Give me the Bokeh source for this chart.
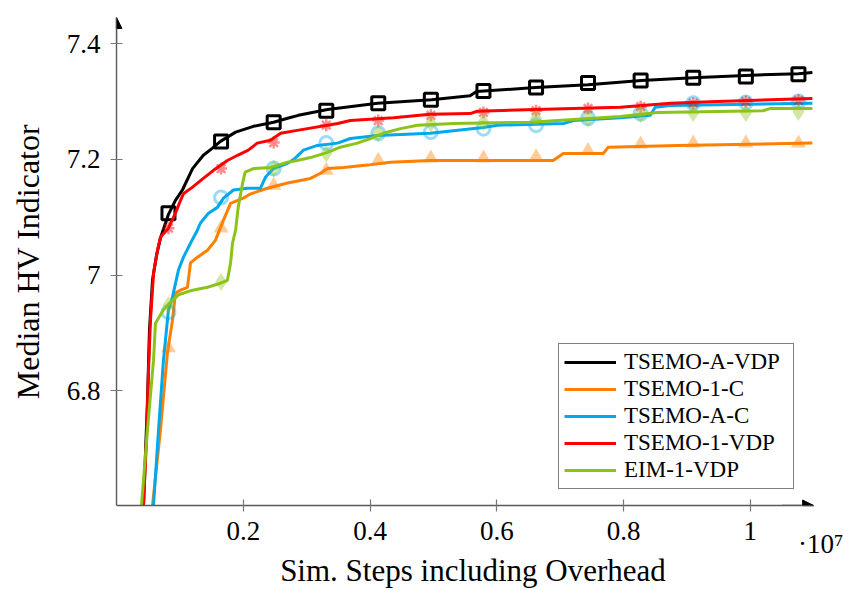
from bokeh.plotting import figure
from bokeh.models import (Range1d, FixedTicker, Legend, LegendItem, LinearAxis,
                          Arrow, NormalHead)
from bokeh.embed import file_html
from bokeh.resources import INLINE

FONT = "Liberation Serif"

# ---------------- data (x in units of 1e6 simulation steps) ----------------
series_names = ["TSEMO-A-VDP", "TSEMO-1-C", "TSEMO-A-C", "TSEMO-1-VDP", "EIM-1-VDP"]

a_vdp_x = [0.426, 0.489, 0.52, 0.568, 0.631, 0.694, 0.82, 0.93, 1.04, 1.2, 1.37, 1.51, 1.64,
           1.88, 2.16, 2.48, 2.70, 2.87, 3.33, 4.12, 4.97, 5.58, 5.68, 6.61, 7.44, 8.28,
           9.10, 9.92, 10.76, 10.98]
a_vdp_y = [6.602, 6.784, 6.905, 6.991, 7.034, 7.064, 7.105, 7.129, 7.147, 7.184, 7.207, 7.219,
           7.231, 7.247, 7.257, 7.264, 7.271, 7.276, 7.286, 7.297, 7.303, 7.310, 7.317, 7.324,
           7.329, 7.336, 7.341, 7.345, 7.348, 7.350]

one_c_x = [0.568, 0.694, 0.804, 0.883, 0.931, 1.01, 1.12, 1.167, 1.278, 1.435, 1.56, 1.688,
           1.80, 2.00, 2.11, 2.38, 2.70, 3.06, 3.22, 3.33, 3.58, 3.96, 4.32, 4.95, 6.89,
           7.05, 7.68, 7.76, 8.85, 10.98]
one_c_y = [6.602, 6.733, 6.866, 6.922, 6.969, 6.974, 6.979, 7.021, 7.031, 7.043, 7.060, 7.095,
           7.124, 7.133, 7.140, 7.150, 7.159, 7.167, 7.176, 7.184, 7.186, 7.190, 7.195, 7.198,
           7.198, 7.210, 7.210, 7.221, 7.224, 7.228]

a_c_x = [0.584, 0.66, 0.741, 0.82, 0.883, 0.978, 1.057, 1.167, 1.278, 1.325, 1.451, 1.593,
         1.688, 1.845, 2.066, 2.27, 2.35, 2.476, 2.70, 2.82, 2.95, 3.17, 3.49, 3.69, 4.12,
         4.95, 5.79, 6.01, 7.05, 7.21, 7.95, 8.42, 8.50, 8.74, 10.98]
a_c_y = [6.602, 6.728, 6.853, 6.940, 6.962, 7.009, 7.031, 7.055, 7.078, 7.090, 7.107, 7.117,
         7.133, 7.147, 7.150, 7.150, 7.169, 7.184, 7.193, 7.202, 7.216, 7.224, 7.228, 7.236,
         7.241, 7.245, 7.255, 7.259, 7.262, 7.267, 7.272, 7.276, 7.290, 7.293, 7.297]

one_vdp_x = [0.426, 0.473, 0.505, 0.536, 0.584, 0.647, 0.694, 0.82, 0.93, 1.01, 1.06, 1.2,
             1.37, 1.53, 1.75, 1.91, 2.08, 2.22, 2.43, 2.59, 2.85, 3.49, 3.69, 4.37, 4.95,
             5.58, 5.69, 6.61, 7.95, 8.74, 9.48, 10.98]
one_vdp_y = [6.602, 6.716, 6.836, 6.922, 7.003, 7.043, 7.066, 7.081, 7.107, 7.129, 7.141,
             7.152, 7.167, 7.181, 7.198, 7.207, 7.216, 7.228, 7.233, 7.245, 7.250, 7.262,
             7.267, 7.272, 7.278, 7.279, 7.283, 7.286, 7.290, 7.297, 7.300, 7.305]

eim_x = [0.394, 0.489, 0.584, 0.615, 0.741, 0.852, 0.978, 1.20, 1.435, 1.64, 1.75, 1.80, 1.83,
         1.88, 1.92, 1.99, 2.03, 2.16, 2.43, 2.70, 2.85, 3.06, 3.33, 3.53, 3.80, 4.01, 4.21,
         4.48, 4.75, 5.32, 6.53, 7.21, 7.95, 8.53, 10.2, 10.32, 10.98]
eim_y = [6.602, 6.733, 6.853, 6.917, 6.940, 6.953, 6.966, 6.974, 6.979, 6.986, 6.991, 7.021,
         7.055, 7.078, 7.117, 7.159, 7.178, 7.184, 7.186, 7.195, 7.198, 7.203, 7.212, 7.221,
         7.228, 7.236, 7.245, 7.253, 7.259, 7.262, 7.264, 7.269, 7.274, 7.281, 7.284, 7.288,
         7.288]

# marker positions (shared x) and marker values per series
mark_x = [0.82, 1.65, 2.48, 3.31, 4.13, 4.96, 5.79, 6.62, 7.44, 8.27, 9.10, 9.93, 10.76]
a_vdp_m = [7.107, 7.231, 7.264, 7.284, 7.297, 7.303, 7.318, 7.324, 7.332, 7.336, 7.341, 7.343, 7.347]
one_c_m = [6.874, 7.081, 7.155, 7.181, 7.198, 7.202, 7.202, 7.204, 7.215, 7.226, 7.228, 7.228, 7.228]
a_c_m = [6.936, 7.134, 7.184, 7.228, 7.245, 7.247, 7.253, 7.259, 7.271, 7.279, 7.297, 7.298, 7.300]
one_vdp_m = [7.081, 7.184, 7.229, 7.259, 7.267, 7.276, 7.281, 7.284, 7.288, 7.291, 7.297, 7.300, 7.302]
eim_m = [6.948, 6.988, 7.184, 7.210, 7.245, 7.262, 7.264, 7.271, 7.271, 7.278, 7.280, 7.280, 7.282]

x_ticks = [2e6, 4e6, 6e6, 8e6, 1e7]
x_tick_labels = ["0.2", "0.4", "0.6", "0.8", "1"]
y_ticks = [6.8, 7.0, 7.2, 7.4]
y_tick_labels = ["6.8", "7", "7.2", "7.4"]
x_scale_label = "·10⁷"
x_title = "Sim. Steps including Overhead"
y_title = "Median HV Indicator"

SCALE = 1e6
colors = ["#000000", "#ff8000", "#00a8ec", "#ff0000", "#8cc31a"]

# ---------------- figure ----------------
X_AXIS_END = 11.0e6
X_END = 11.25e6
Y_MIN, Y_MAX = 6.602, 7.445
p = figure(width=844, height=590, output_backend="svg", toolbar_location=None,
           x_range=Range1d(0, X_END), y_range=Range1d(Y_MIN, Y_MAX),
           min_border_left=116, min_border_right=15, min_border_top=17,
           min_border_bottom=84)
p.outline_line_color = None
p.grid.visible = False
p.background_fill_color = "white"
p.border_fill_color = "white"

for ax in (p.xaxis[0], p.yaxis[0]):
    ax.axis_line_color = "#5a5a5a"
    ax.axis_line_width = 1.4
    ax.major_tick_line_color = "#777777"
    ax.major_tick_line_width = 1.2
    ax.major_tick_in = 6
    ax.major_tick_out = 6
    ax.minor_tick_line_color = None
    ax.major_label_text_font = FONT
    ax.major_label_text_font_size = "27px"
    ax.major_label_text_color = "black"

p.xaxis.ticker = FixedTicker(ticks=x_ticks)
p.xaxis.major_label_overrides = {t: l for t, l in zip(x_ticks, x_tick_labels)}
p.xaxis.major_label_standoff = 10
p.xaxis.bounds = (0, X_AXIS_END)
p.yaxis.ticker = FixedTicker(ticks=y_ticks)
p.yaxis.major_label_overrides = {t: l for t, l in zip(y_ticks, y_tick_labels)}
p.yaxis.major_label_standoff = 10
p.yaxis.axis_label = y_title
p.yaxis.axis_label_text_font = FONT
p.yaxis.axis_label_text_font_size = "32px"
p.yaxis.axis_label_text_font_style = "normal"
p.yaxis.axis_label_text_color = "black"
p.yaxis.axis_label_standoff = 18

# scale factor "·10^7" as a tick label of an extra (line-less) axis
scale_pos = 11.11e6
ax_scale = LinearAxis(ticker=FixedTicker(ticks=[scale_pos]),
                      major_label_overrides={scale_pos: x_scale_label},
                      axis_line_color=None, major_tick_line_color=None,
                      major_tick_in=0, major_tick_out=0, minor_tick_line_color=None,
                      major_label_standoff=-14, major_label_text_font=FONT,
                      major_label_text_font_size="27px", major_label_text_color="black")
p.add_layout(ax_scale, "below")

# x-axis title on an extra axis without ticks
ax_title = LinearAxis(ticker=FixedTicker(ticks=[]), axis_line_color=None,
                      major_tick_line_color=None, major_tick_in=0, major_tick_out=0,
                      minor_tick_line_color=None, bounds=(0, 10.98e6),
                      axis_label=x_title, axis_label_standoff=-9,
                      axis_label_text_font=FONT, axis_label_text_font_size="31px",
                      axis_label_text_font_style="normal", axis_label_text_color="black")
p.add_layout(ax_title, "below")

# axis arrows
p.add_layout(Arrow(end=NormalHead(size=11, fill_color="black", line_color="black"),
                   x_start=0, y_start=7.40, x_end=0, y_end=Y_MAX,
                   line_color="#5a5a5a", line_width=1.4))
p.add_layout(Arrow(end=NormalHead(size=11, fill_color="black", line_color="black"),
                   x_start=10.5e6, y_start=Y_MIN, x_end=X_AXIS_END, y_end=Y_MIN,
                   line_color="#5a5a5a", line_width=1.4))

lines_x = [a_vdp_x, one_c_x, a_c_x, one_vdp_x, eim_x]
lines_y = [a_vdp_y, one_c_y, a_c_y, one_vdp_y, eim_y]
marks_y = [a_vdp_m, one_c_m, a_c_m, one_vdp_m, eim_m]

renderers = []
for i, (lx, ly, my) in enumerate(zip(lines_x, lines_y, marks_y)):
    c = colors[i]
    r = p.line([v * SCALE for v in lx], ly, line_color=c, line_width=3)
    renderers.append(r)
    mx = [v * SCALE for v in mark_x]
    if i == 0:
        p.scatter(mx, my, marker="square", size=13, fill_color=None,
                  line_color="black", line_width=3)
    elif i == 1:
        p.scatter(mx, my, marker="triangle", size=15, fill_color=c, fill_alpha=0.4,
                  line_color=None)
    elif i == 2:
        p.scatter(mx, my, marker="circle", size=13, fill_color=None,
                  line_color=c, line_alpha=0.4, line_width=3)
    elif i == 3:
        p.scatter(mx, my, marker="asterisk", size=12, line_color=c, line_alpha=0.45,
                  line_width=2.5)
    else:
        p.scatter(mx, my, marker="diamond", size=18, fill_color=c, fill_alpha=0.4,
                  line_color=None)

legend = Legend(items=[LegendItem(label=n, renderers=[r]) for n, r in zip(series_names, renderers)],
                location=(442, 16))
legend.label_text_font = FONT
legend.label_text_font_size = "23px"
legend.label_text_color = "black"
legend.glyph_width = 52
legend.glyph_height = 20
legend.label_height = 20
legend.label_width = 164
legend.label_standoff = 8
legend.spacing = 1
legend.padding = 5
legend.margin = 0
legend.border_line_color = "black"
legend.border_line_width = 1.2
legend.background_fill_color = "white"
legend.background_fill_alpha = 1
p.add_layout(legend)

open("out.html", "w").write(file_html(p, INLINE))
